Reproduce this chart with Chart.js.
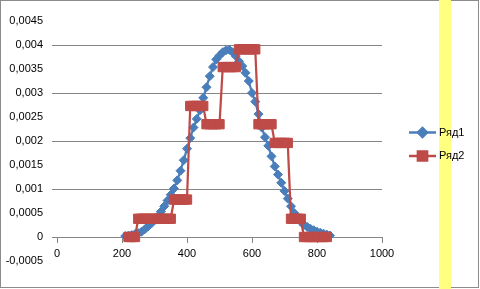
<!DOCTYPE html>
<html>
<head>
<meta charset="utf-8">
<script src="https://cdn.jsdelivr.net/npm/chart.js@4.4.1/dist/chart.umd.min.js"></script>
<style>
    html, body { margin: 0; padding: 0; background: #fff; }
    #wrap { position: relative; width: 480px; height: 289px; overflow: hidden; }
    #frame { position: absolute; left: 0; top: 0; width: 477px; height: 286px; border: 1px solid #8c8c8c; }
    #band { position: absolute; left: 439px; top: 0; width: 12px; height: 289px; background: #ffff80; }
    #chart { position: absolute; left: 0; top: 0; }
</style>
</head>
<body>
<div id="wrap">
    <div id="frame"></div>
    <div id="band"></div>
    <canvas id="chart" width="480" height="289"></canvas>
</div>
<script>
// --- Data ---
const seriesNames = ['Ряд1', 'Ряд2'];

// Ряд1: smooth bell curve
const series1X = [210, 220, 230, 240, 250, 260, 270, 280, 290, 300,
    310, 320, 330, 340, 350, 360, 370, 380, 390, 400,
    410, 420, 430, 440, 450, 460, 470, 480, 490, 500,
    510, 520, 530, 540, 550, 560, 570, 580, 590, 600,
    610, 620, 630, 640, 650, 660, 670, 680, 690, 700,
    710, 720, 730, 740, 750, 760, 770, 780, 790, 800,
    810, 820, 830, 840];
const series1Y = [0.00002, 0.00003, 0.00004, 0.00006, 0.00008, 0.00011, 0.00016, 0.00022, 0.00028, 0.00035,
    0.00043, 0.00053, 0.00064, 0.00076, 0.00088, 0.00101, 0.00118, 0.00138, 0.00160, 0.00184,
    0.00206, 0.00228, 0.00246, 0.00264, 0.00290, 0.00312, 0.00335, 0.00354, 0.00370, 0.00378,
    0.00385, 0.00389, 0.00390, 0.00385, 0.00377, 0.00366, 0.00356, 0.00342, 0.00325, 0.00300,
    0.00282, 0.00256, 0.00228, 0.00208, 0.00190, 0.00168, 0.00147, 0.00130, 0.00113, 0.00096,
    0.00080, 0.00064, 0.00050, 0.00040, 0.00032, 0.00025, 0.00021, 0.00017, 0.00014, 0.00011,
    0.00009, 0.00007, 0.00005, 0.00003];

// Ряд2: step shape
const series2X = [220, 230, 240,
    250, 260, 270, 280, 290, 300, 310, 320, 330, 340, 350,
    360, 370, 380, 390, 400,
    410, 420, 430, 440, 450,
    460, 470, 480, 490, 500,
    510, 520, 530, 540, 550,
    560, 570, 580, 590, 600, 610,
    620, 630, 640, 650, 660,
    670, 680, 690, 700, 710,
    720, 730, 740, 750,
    760, 770, 780, 790, 800, 810, 820, 830];
const series2Y = [0, 0, 0,
    0.00038, 0.00038, 0.00038, 0.00038, 0.00038, 0.00038, 0.00038, 0.00038, 0.00038, 0.00038, 0.00038,
    0.00078, 0.00078, 0.00078, 0.00078, 0.00078,
    0.00273, 0.00273, 0.00273, 0.00273, 0.00273,
    0.00235, 0.00235, 0.00235, 0.00235, 0.00235,
    0.00354, 0.00354, 0.00354, 0.00354, 0.00354,
    0.00391, 0.00391, 0.00391, 0.00391, 0.00391, 0.00391,
    0.00235, 0.00235, 0.00235, 0.00235, 0.00235,
    0.00196, 0.00196, 0.00196, 0.00196, 0.00196,
    0.00038, 0.00038, 0.00038, 0.00038,
    0, 0, 0, 0, 0, 0, 0, 0];

const xMin = 0, xMax = 1000, xStep = 200;
const yMin = -0.0005, yMax = 0.0045, yStep = 0.0005;

const blue = '#4a7ebb';
const red = '#be4b48';
const gridGray = '#868686';
const fontFamily = '"Liberation Sans", Arial, sans-serif';

const toPoints = (xs, ys) => xs.map((x, i) => ({ x: x, y: ys[i] }));

const fmtY = (v) => {
    const r = Math.round(v * 10000) / 10000;
    return String(r).replace('.', ',');
};

// --- custom legend: line + marker, like the spreadsheet one ---
const sideLegend = {
    id: 'sideLegend',
    afterDraw(chart) {
        const ctx = chart.ctx;
        const items = [
            { name: seriesNames[0], color: blue, style: 'rectRot', r: 4.5, y: 132.5 },
            { name: seriesNames[1], color: red, style: 'rect', r: 6.5, y: 156 }
        ];
        ctx.save();
        items.forEach(it => {
            ctx.strokeStyle = it.color;
            ctx.lineWidth = 2.5;
            ctx.beginPath();
            ctx.moveTo(409, it.y);
            ctx.lineTo(436, it.y);
            ctx.stroke();
            Chart.helpers.drawPoint(ctx, { pointStyle: it.style, radius: it.r, borderWidth: 1, rotation: 0 }, 422.5, it.y);
            ctx.fillStyle = it.color;
            ctx.fill();
            ctx.fillStyle = '#000';
            ctx.font = '11px ' + fontFamily;
            ctx.textBaseline = 'middle';
            ctx.textAlign = 'left';
            ctx.fillText(it.name, 439, it.y);
        });
        ctx.restore();
    }
};

const ctx = document.getElementById('chart').getContext('2d');
new Chart(ctx, {
    type: 'scatter',
    data: {
        datasets: [
            {
                label: seriesNames[0],
                data: toPoints(series1X, series1Y),
                showLine: true,
                borderColor: blue,
                backgroundColor: blue,
                borderWidth: 2.25,
                pointStyle: 'rectRot',
                pointRadius: 4.5,
                pointBorderWidth: 1,
                pointBorderColor: blue,
                order: 2
            },
            {
                label: seriesNames[1],
                data: toPoints(series2X, series2Y),
                showLine: true,
                borderColor: red,
                backgroundColor: red,
                borderWidth: 2.25,
                pointStyle: 'rect',
                pointRadius: 6.6,
                pointBorderWidth: 1,
                pointBorderColor: red,
                order: 1
            }
        ]
    },
    options: {
        responsive: false,
        animation: false,
        layout: { padding: { top: 21, right: 98, bottom: 28, left: 0 } },
        plugins: {
            legend: { display: false },
            tooltip: { enabled: false }
        },
        scales: {
            x: {
                type: 'linear',
                position: { y: 0 },
                min: xMin,
                max: xMax,
                ticks: {
                    stepSize: xStep,
                    padding: 5,
                    color: '#000',
                    font: { family: fontFamily, size: 11 },
                    maxRotation: 0,
                    callback: (v) => String(v)
                },
                grid: { drawOnChartArea: false, drawTicks: true, tickLength: 5, tickColor: gridGray },
                border: { display: true, color: gridGray, width: 1 }
            },
            y: {
                type: 'linear',
                min: yMin,
                max: yMax,
                afterFit(scale) { scale.width = 57; },
                ticks: {
                    stepSize: yStep,
                    padding: 9,
                    color: '#000',
                    font: { family: fontFamily, size: 11 },
                    callback: (v) => fmtY(v)
                },
                grid: {
                    color: (c) => (c.index % 2 === 1 ? gridGray : 'rgba(0,0,0,0)'),
                    tickColor: (c) => (c.index % 2 === 1 ? gridGray : 'rgba(0,0,0,0)'),
                    tickLength: 5,
                    lineWidth: 1
                },
                border: { display: false }
            }
        }
    },
    plugins: [sideLegend]
});
</script>
</body>
</html>
